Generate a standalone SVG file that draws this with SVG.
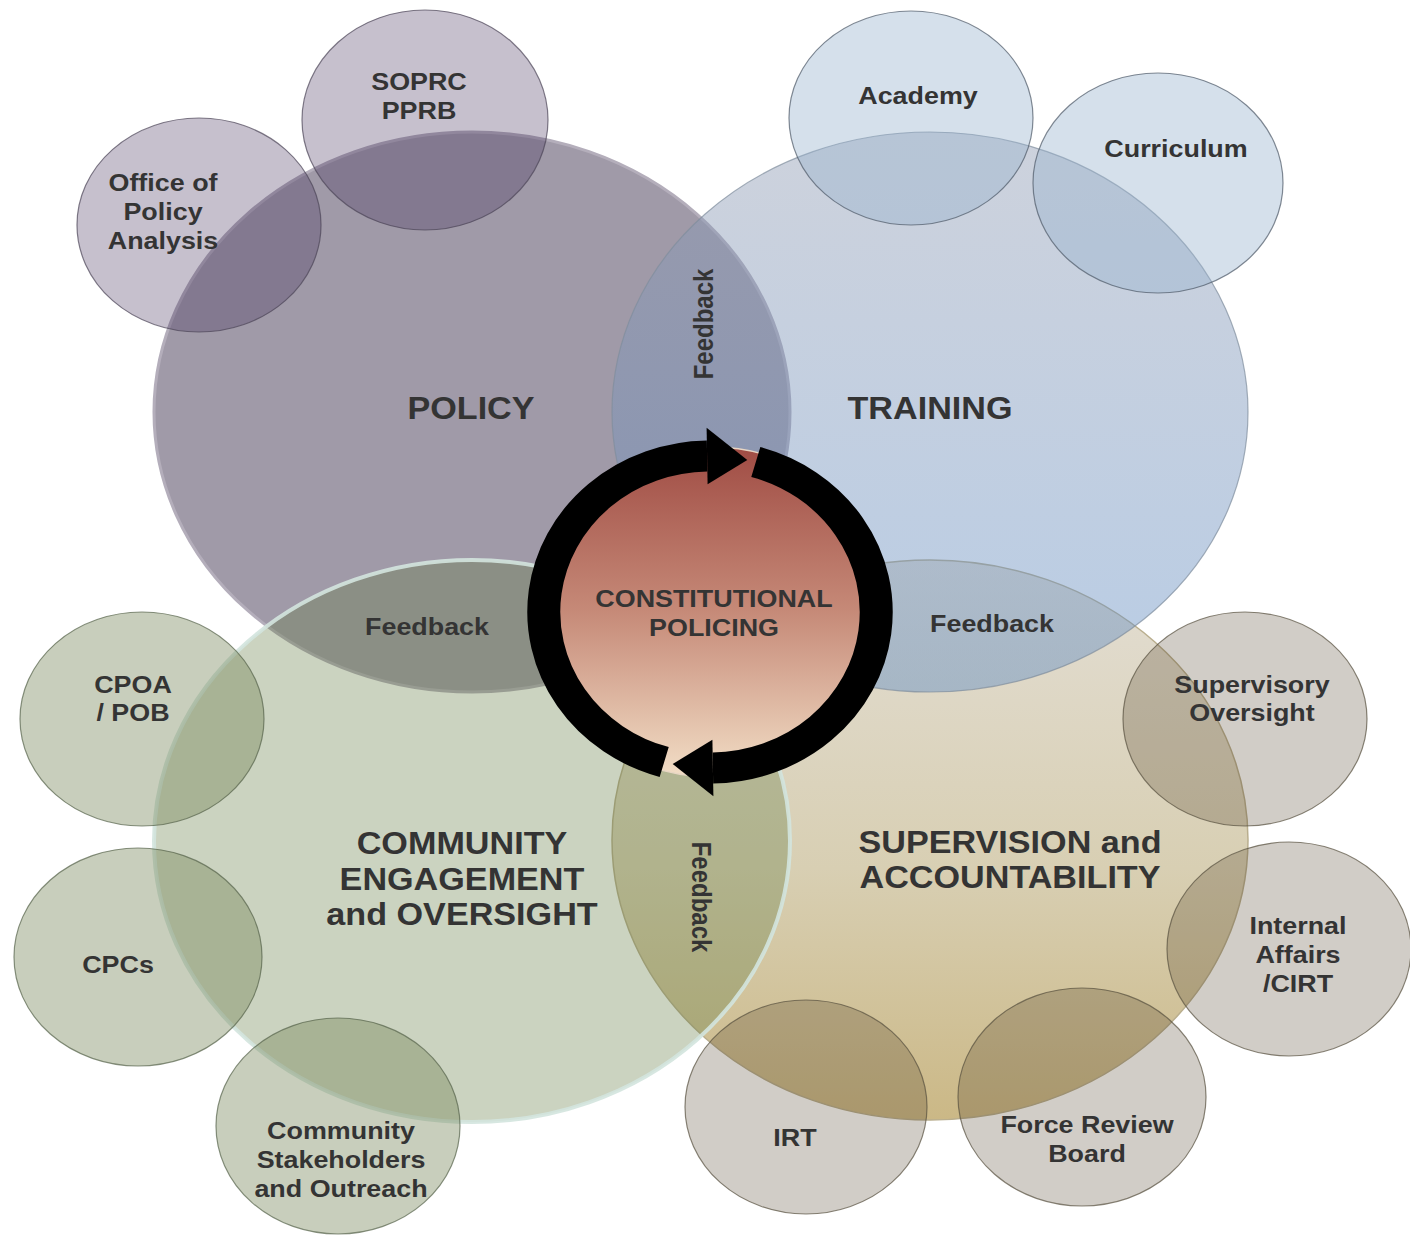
<svg xmlns="http://www.w3.org/2000/svg" width="1410" height="1235" viewBox="0 0 1410 1235">
  <defs>
    <style>
      text { font-family: "Liberation Sans", Arial, sans-serif; font-weight: bold; fill: #343434; text-anchor: middle; }
      .sm { font-size: 24px; }
      .lg { font-size: 30.5px; }
      .sat-p { fill: rgb(65,48,88); fill-opacity: 0.3; stroke: #4b4457; stroke-width: 1.2; stroke-opacity: 0.7; }
      .sat-t { fill: rgb(150,178,205); fill-opacity: 0.4; stroke: #4d5866; stroke-width: 1.2; stroke-opacity: 0.7; }
      .sat-c { fill: rgb(110,125,80); fill-opacity: 0.38; stroke: #56624a; stroke-width: 1.2; stroke-opacity: 0.7; }
      .sat-s { fill: rgb(70,55,30); fill-opacity: 0.25; stroke: #57503f; stroke-width: 1.2; stroke-opacity: 0.7; }
      .arc { fill: none; stroke: #000; stroke-width: 33; }
      .head { fill: #000; }
    </style>
    <linearGradient id="gTrain" x1="0" y1="0" x2="0" y2="1">
      <stop offset="0" stop-color="rgb(144,155,178)" stop-opacity="0.45"/>
      <stop offset="1" stop-color="rgb(98,142,196)" stop-opacity="0.45"/>
    </linearGradient>
    <linearGradient id="gSup" x1="0" y1="0" x2="0" y2="1">
      <stop offset="0" stop-color="#e3ded4"/>
      <stop offset="0.55" stop-color="#d8cfb3"/>
      <stop offset="1" stop-color="#cbb886"/>
    </linearGradient>
    <linearGradient id="gCore" x1="0" y1="0" x2="0" y2="1">
      <stop offset="0" stop-color="#a04c44"/>
      <stop offset="0.5" stop-color="#c68a78"/>
      <stop offset="1" stop-color="#f2dec6"/>
    </linearGradient>
  </defs>

  <rect width="1410" height="1235" fill="#ffffff"/>

  <!-- main areas -->
  <g id="policy">
    <ellipse cx="472" cy="412" rx="318" ry="280" fill="#a09aa8" stroke="#b4aebb" stroke-width="3"/>
  </g>
  <g id="supervision">
    <ellipse cx="930" cy="840" rx="318" ry="280" fill="url(#gSup)" stroke="#b9ae8e" stroke-width="1.5"/>
  </g>
  <g id="training">
    <ellipse cx="930" cy="412" rx="318" ry="280" fill="url(#gTrain)" stroke="#7f8d9c" stroke-width="1.2" stroke-opacity="0.7"/>
  </g>
  <g id="community">
    <ellipse cx="472" cy="841" rx="318" ry="281" fill="rgb(97,121,64)" fill-opacity="0.33" stroke="#d3e4de" stroke-width="4" stroke-opacity="0.9"/>
  </g>

  <!-- satellite units -->
  <g id="office-policy-analysis">
    <ellipse class="sat-p" cx="199" cy="225" rx="122" ry="107"/>
    <text class="sm" transform="translate(163,0) scale(1.12,1)"><tspan x="0" y="191.5">Office of</tspan><tspan x="0" y="220.5">Policy</tspan><tspan x="0" y="249.5">Analysis</tspan></text>
  </g>
  <g id="soprc-pprb">
    <ellipse class="sat-p" cx="425" cy="120" rx="123" ry="110"/>
    <text class="sm" transform="translate(419,0) scale(1.12,1)"><tspan x="0" y="90.5">SOPRC</tspan><tspan x="0" y="119.5">PPRB</tspan></text>
  </g>
  <g id="academy">
    <ellipse class="sat-t" cx="911" cy="118" rx="122" ry="107"/>
    <text class="sm" transform="translate(918,0) scale(1.12,1)" x="0" y="104.5">Academy</text>
  </g>
  <g id="curriculum">
    <ellipse class="sat-t" cx="1158" cy="183" rx="125" ry="110"/>
    <text class="sm" transform="translate(1176,0) scale(1.12,1)" x="0" y="157.5">Curriculum</text>
  </g>
  <g id="cpoa-pob">
    <ellipse class="sat-c" cx="142" cy="719" rx="122" ry="107"/>
    <text class="sm" transform="translate(133,0) scale(1.12,1)"><tspan x="0" y="693.5">CPOA</tspan><tspan x="0" y="721.5">/ POB</tspan></text>
  </g>
  <g id="cpcs">
    <ellipse class="sat-c" cx="138" cy="957" rx="124" ry="109"/>
    <text class="sm" transform="translate(118,0) scale(1.12,1)" x="0" y="973.5">CPCs</text>
  </g>
  <g id="community-stakeholders">
    <ellipse class="sat-c" cx="338" cy="1126" rx="122" ry="108"/>
    <text class="sm" transform="translate(341,0) scale(1.12,1)"><tspan x="0" y="1139.5">Community</tspan><tspan x="0" y="1168.5">Stakeholders</tspan><tspan x="0" y="1197.5">and Outreach</tspan></text>
  </g>
  <g id="supervisory-oversight">
    <ellipse class="sat-s" cx="1245" cy="719" rx="122" ry="107"/>
    <text class="sm" transform="translate(1252,0) scale(1.12,1)"><tspan x="0" y="693.5">Supervisory</tspan><tspan x="0" y="721.5">Oversight</tspan></text>
  </g>
  <g id="internal-affairs">
    <ellipse class="sat-s" cx="1289" cy="949" rx="122" ry="107"/>
    <text class="sm" transform="translate(1298,0) scale(1.12,1)"><tspan x="0" y="934.5">Internal</tspan><tspan x="0" y="963.5">Affairs</tspan><tspan x="0" y="992.5">/CIRT</tspan></text>
  </g>
  <g id="irt">
    <ellipse class="sat-s" cx="806" cy="1107" rx="121" ry="107"/>
    <text class="sm" transform="translate(795,0) scale(1.12,1)" x="0" y="1146.5">IRT</text>
  </g>
  <g id="force-review-board">
    <ellipse class="sat-s" cx="1082" cy="1097" rx="124" ry="109"/>
    <text class="sm" transform="translate(1087,0) scale(1.12,1)"><tspan x="0" y="1133.5">Force Review</tspan><tspan x="0" y="1162.5">Board</tspan></text>
  </g>

  <!-- area titles -->
  <g id="area-labels">
    <text class="lg" transform="translate(471,0) scale(1.12,1)" x="0" y="419">POLICY</text>
    <text class="lg" transform="translate(930,0) scale(1.12,1)" x="0" y="419">TRAINING</text>
    <text class="lg" transform="translate(462,0) scale(1.12,1)"><tspan x="0" y="854">COMMUNITY</tspan><tspan x="0" y="890">ENGAGEMENT</tspan><tspan x="0" y="925">and OVERSIGHT</tspan></text>
    <text class="lg" transform="translate(1010,0) scale(1.12,1)"><tspan x="0" y="853">SUPERVISION and</tspan><tspan x="0" y="888">ACCOUNTABILITY</tspan></text>
  </g>

  <!-- feedback overlaps -->
  <g id="feedback-labels">
    <text class="sm" transform="translate(703,324) scale(1.12,1) rotate(-90)" x="0" y="8.6">Feedback</text>
    <text class="sm" transform="translate(427,0) scale(1.12,1)" x="0" y="635.5">Feedback</text>
    <text class="sm" transform="translate(992,0) scale(1.12,1)" x="0" y="632.5">Feedback</text>
    <text class="sm" transform="translate(702,897) scale(1.12,1) rotate(90)" x="0" y="8.6">Feedback</text>
  </g>

  <!-- central node -->
  <g id="constitutional-policing">
    <ellipse cx="712" cy="612" rx="178" ry="165" fill="url(#gCore)" stroke="#e8d6c4" stroke-width="1.5"/>
    <text class="sm" transform="translate(714,0) scale(1.12,1)"><tspan x="0" y="607.5">CONSTITUTIONAL</tspan><tspan x="0" y="636.5">POLICING</tspan></text>
  </g>

  <!-- cycle arrows -->
  <g id="connectors" transform="translate(710,612) scale(1,0.94)">
    <path class="arc" d="M -45.8 159.6 A 166 166 0 0 1 -2.9 -166.0"/>
    <polygon class="head" points="-3.4,-196 37.3,-161.7 -2.4,-136"/>
    <path class="arc" d="M 45.8 -159.6 A 166 166 0 0 1 2.9 166.0"/>
    <polygon class="head" points="3.4,196 -37.3,161.7 2.4,136"/>
  </g>
</svg>
